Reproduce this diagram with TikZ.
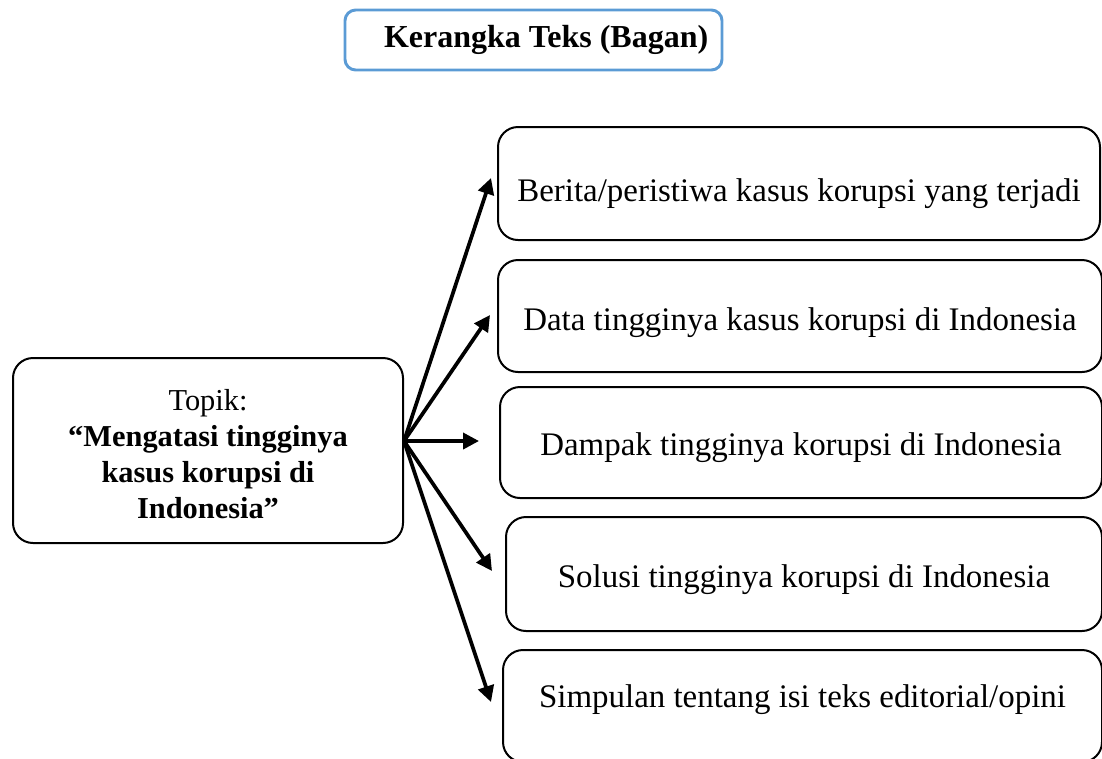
\documentclass[tikz,border=0pt]{standalone}
\usepackage{fontspec}
\setmainfont{Liberation Serif}
\usetikzlibrary{arrows.meta}
\definecolor{titleblue}{HTML}{5B9BD5}
\newcommand\lowertext[2]{\raisebox{#1}[\height][\depth]{#2}}
\begin{document}
\begin{tikzpicture}[x=0.75pt,y=-0.75pt,
  box/.style={draw=black, line width=1.5pt, rounded corners=15pt, align=center, inner sep=0pt},
  item/.style={box, font=\fontsize{24.7}{29}\selectfont},
  conn/.style={line width=2.8pt, -{Triangle[length=12pt,width=12pt]}}]
\useasboundingbox (0,0) rectangle (1102,758);
\clip (0,0) rectangle (1102,758);
% title
\node[draw=titleblue, line width=2.2pt, rounded corners=8pt, inner sep=0pt,
  minimum width=377*0.75pt, minimum height=60*0.75pt,
  font=\fontsize{24}{28}\selectfont\bfseries] (title) at (533.5,40)
  {\hspace*{19pt}Kerangka Teks (Bagan)};
% left topic
\node[box, minimum width=390*0.75pt, minimum height=185*0.75pt,
  font=\fontsize{22.8}{27}\selectfont] (topic) at (208,450.5)
  {\lowertext{-5pt}{\begin{tabular}{@{}c@{}}Topik:\\\textbf{“Mengatasi tingginya}\\\textbf{kasus korupsi di}\\\textbf{Indonesia”}\end{tabular}}};
% right items
\node[item, minimum width=602*0.75pt, minimum height=113*0.75pt] (b1) at (799,183.5)
  {\lowertext{-7.5pt}{Berita/peristiwa kasus korupsi yang terjadi}};
\node[item, minimum width=604*0.75pt, minimum height=112*0.75pt] (b2) at (800,316)
  {\lowertext{-5pt}{Data tingginya kasus korupsi di Indonesia}};
\node[item, minimum width=602*0.75pt, minimum height=111*0.75pt] (b3) at (801,442.5)
  {\lowertext{-3.75pt}{Dampak tingginya korupsi di Indonesia}};
\node[item, minimum width=596*0.75pt, minimum height=114*0.75pt] (b4) at (804,574)
  {\lowertext{-4.5pt}{Solusi tingginya korupsi di Indonesia}};
\node[item, minimum width=599*0.75pt, minimum height=112*0.75pt] (b5) at (802.5,706)
  {\lowertext{4.5pt}{Simpulan tentang isi teks editorial/opini}};
% connectors
\coordinate (hub) at (404,441);
\coordinate (t1) at (491,178);
\coordinate (t2) at (490,315);
\coordinate (t3) at (479,441);
\coordinate (t4) at (492,571);
\coordinate (t5) at (491,702);
\foreach \t in {t1,t2,t3,t4,t5} \draw[conn] (hub) -- (\t);
\end{tikzpicture}
\end{document}
